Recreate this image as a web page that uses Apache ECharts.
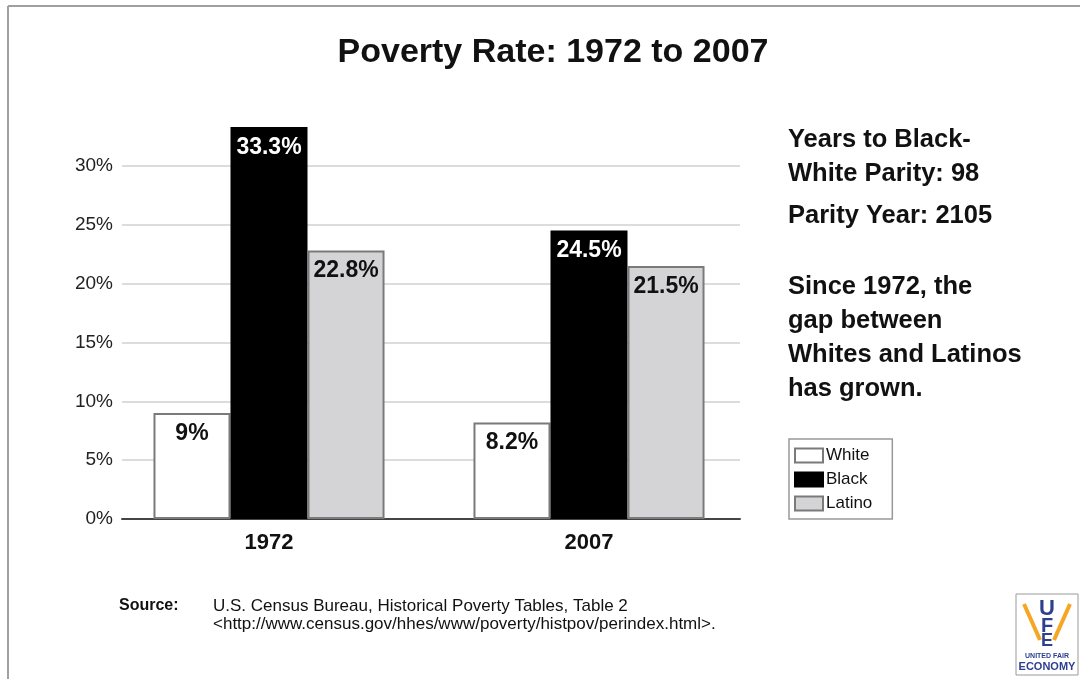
<!DOCTYPE html>
<html>
<head>
<meta charset="utf-8">
<script src="https://cdn.jsdelivr.net/npm/echarts@6/dist/echarts.min.js"></script>
<style>
html,body{margin:0;padding:0;background:#fff;}
#c{width:1080px;height:679px;}
</style>
</head>
<body>
<div id="c"></div>
<script>
const categories = ['1972', '2007'];
const seriesNames = ['White', 'Black', 'Latino'];
const whiteRates = [9, 8.2];
const blackRates = [33.3, 24.5];
const latinoRates = [22.8, 21.5];
const yTickMax = 30;
const yTickStep = 5;
const sideNotes = ['Years to Black-', 'White Parity: 98', 'Parity Year: 2105', '', 'Since 1972, the', 'gap between', 'Whites and Latinos', 'has grown.'];
const sourceLines = ['U.S. Census Bureau, Historical Poverty Tables, Table 2', '<http://www.census.gov/hhes/www/poverty/histpov/perindex.html>.'];

const FONT = '"Liberation Sans", Arial, sans-serif';
const chart = echarts.init(document.getElementById('c'), null, {renderer: 'canvas'});

function barSeries(name, data, fill, border, labelColor) {
  return {
    name: name, type: 'bar', data: data, xAxisIndex: 0, yAxisIndex: 0,
    barGap: '0%', barCategoryGap: '27.8%',
    itemStyle: {color: fill, borderColor: border, borderWidth: 2},
    label: {
      show: true, position: 'insideTop', distance: 9,
      formatter: '{c}%', color: labelColor,
      fontFamily: FONT, fontWeight: 'bold', fontSize: 23
    },
    z: 3
  };
}

const noteGraphics = [];
const noteY = [138, 172, 214, 0, 285, 319, 353, 387];
sideNotes.forEach((t, i) => {
  if (!t) return;
  noteGraphics.push({
    type: 'text', left: 788, top: noteY[i] - 11,
    style: {text: t, font: 'bold 25.5px ' + FONT, fill: '#111'}
  });
});

const option = {
  backgroundColor: '#fff',
  animation: false,
  title: {
    text: 'Poverty Rate: 1972 to 2007', left: 548, top: 31, textAlign: 'center',
    textStyle: {fontFamily: FONT, fontSize: 34, fontWeight: 'bold', color: '#111'}
  },
  legend: {
    data: seriesNames, orient: 'vertical', left: 789, top: 439,
    icon: 'rect', itemWidth: 28, itemHeight: 14, itemGap: 7,
    padding: [8, 20, 7, 5],
    borderColor: '#999', borderWidth: 1.5,
    textStyle: {fontFamily: FONT, fontSize: 17, color: '#111', padding: [0, 0, 0, -2]}
  },
  grid: [
    {left: 109, width: 640, top: 107, bottom: 160},
    {left: 122, width: 618, top: 166, bottom: 160}
  ],
  xAxis: [
    {
      type: 'category', gridIndex: 0, data: categories,
      axisLine: {show: false}, axisTick: {show: false},
      axisLabel: {fontFamily: FONT, fontWeight: 'bold', fontSize: 22, color: '#111', margin: 13}
    },
    {
      type: 'value', gridIndex: 1, min: 0, max: 1,
      axisLine: {show: true, onZero: false, lineStyle: {color: '#444', width: 2}},
      axisTick: {show: false}, axisLabel: {show: false}, splitLine: {show: false}
    }
  ],
  yAxis: [
    {type: 'value', gridIndex: 0, min: 0, max: 35, show: false, splitLine: {show: false}},
    {
      type: 'value', gridIndex: 1, min: 0, max: yTickMax, interval: yTickStep,
      axisLine: {show: false}, axisTick: {show: false},
      axisLabel: {formatter: '{value}%', fontFamily: FONT, fontSize: 19, color: '#222', margin: 9},
      splitLine: {lineStyle: {color: '#d0d0d0', width: 1.5}}
    }
  ],
  series: [
    barSeries('White', whiteRates, '#ffffff', '#7a7a7a', '#111'),
    barSeries('Black', blackRates, '#000000', '#000000', '#ffffff'),
    barSeries('Latino', latinoRates, '#d4d4d6', '#7a7a7a', '#111')
  ],
  graphic: [
    {type: 'line', shape: {x1: 8, y1: 6, x2: 1080, y2: 6}, style: {stroke: '#a0a0a0', lineWidth: 2}},
    {type: 'line', shape: {x1: 8, y1: 6, x2: 8, y2: 679}, style: {stroke: '#a0a0a0', lineWidth: 2}},
    {type: 'text', x: 119, y: 598, style: {text: 'Source:', font: 'bold 16px ' + FONT, fill: '#111'}},
    {type: 'text', x: 213, y: 598, style: {text: sourceLines[0], font: '17px ' + FONT, fill: '#111'}},
    {type: 'text', x: 213, y: 616, style: {text: sourceLines[1], font: '17px ' + FONT, fill: '#111'}},
    {
      type: 'group', x: 1016, y: 594,
      children: [
        {type: 'rect', shape: {x: 0, y: 0, width: 62, height: 81}, style: {fill: '#fff', stroke: '#999', lineWidth: 1}},
        {type: 'line', shape: {x1: 8, y1: 10, x2: 24, y2: 46}, style: {stroke: '#f5a623', lineWidth: 4}},
        {type: 'line', shape: {x1: 54, y1: 10, x2: 38, y2: 46}, style: {stroke: '#f5a623', lineWidth: 4}},
        {type: 'text', x: 31, y: 4, style: {text: 'U', font: 'bold 22px ' + FONT, fill: '#2d3f8f', align: 'center'}},
        {type: 'text', x: 31, y: 22, style: {text: 'F', font: 'bold 20px ' + FONT, fill: '#2d3f8f', align: 'center'}},
        {type: 'text', x: 31, y: 38, style: {text: 'E', font: 'bold 18px ' + FONT, fill: '#2d3f8f', align: 'center'}},
        {type: 'text', x: 31, y: 59, style: {text: 'UNITED FAIR', font: 'bold 7px ' + FONT, fill: '#2d3f8f', align: 'center'}},
        {type: 'text', x: 31, y: 67, style: {text: 'ECONOMY', font: 'bold 11px ' + FONT, fill: '#2d3f8f', align: 'center'}}
      ]
    }
  ].concat(noteGraphics)
};
chart.setOption(option);
</script>
</body>
</html>
